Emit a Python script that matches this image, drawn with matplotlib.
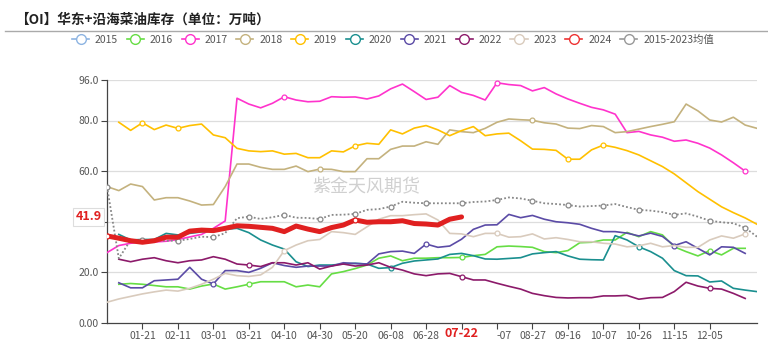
import numpy as np
import matplotlib
matplotlib.use("Agg")
import matplotlib.pyplot as plt
from matplotlib.lines import Line2D
from matplotlib.transforms import blended_transform_factory

plt.rcParams['font.family'] = ['Noto Sans CJK SC', 'DejaVu Sans']

N = 56
x = np.arange(N)

tick_pos = [3, 6, 9, 12, 15, 18, 21, 24, 27, 30, 33, 36, 39, 42, 45, 48, 51]
tick_lab = ['01-21', '02-11', '03-01', '03-21', '04-10', '04-30', '05-20', '06-08',
            '06-28', '', '-07', '08-27', '09-16', '10-07', '10-26', '11-15', '12-05']
cur_idx = 30
cur_date = '07-22'
cur_val = 41.9

y2015 = [None] * N
y2016 = [None, 15.3, 15.6, 15.3, 14.8, 14.3, 14.3, 13.4, 14.6, 15.4, 13.4, 14.3, 15.3, 16.3,
         16.3, 16.3, 14.3, 15.0, 14.3, 19.4, 20.3, 21.5, 22.9, 25.6, 26.5, 24.6, 25.6, 25.6,
         25.8, 25.8, 25.9, 26.6, 27.1, 30.1, 30.4, 30.2, 29.9, 28.2, 27.8, 28.6, 31.7, 31.9,
         32.8, 32.8, 35.8, 34.1, 36.1, 34.8, 30.1, 28.2, 26.5, 28.6, 26.9, 29.5, 29.5, None]
y2017 = [27.8, 30.6, 31.5, 32.0, 32.0, 32.3, 33.0, 34.0, 35.0, 37.4, 40.3, 88.8, 86.5, 85.0,
         86.8, 89.4, 88.1, 87.4, 87.6, 89.4, 89.2, 89.3, 88.5, 89.7, 92.5, 94.4, 91.4, 88.3,
         89.2, 93.8, 91.1, 89.9, 88.1, 94.9, 94.2, 93.8, 91.7, 93.0, 90.5, 88.5, 86.8, 85.2,
         84.2, 82.5, 75.2, 75.7, 74.3, 73.4, 71.8, 72.3, 71.0, 69.1, 66.4, 63.3, 60.0, None]
y2018 = [53.9, 52.3, 54.9, 53.9, 48.6, 49.5, 49.5, 48.2, 46.6, 46.8, 53.9, 62.8, 62.8, 61.5,
         60.7, 60.7, 62.0, 59.8, 60.8, 60.7, 59.8, 59.8, 64.9, 64.9, 68.6, 69.9, 69.9, 71.6,
         70.6, 76.3, 75.6, 75.2, 76.9, 79.3, 80.6, 80.3, 80.1, 79.1, 78.6, 77.0, 76.8, 78.0,
         77.6, 75.2, 75.6, 76.6, 77.6, 78.5, 79.5, 86.5, 83.8, 80.2, 79.4, 81.3, 78.2, 76.9]
y2019 = [None, 79.3, 76.1, 79.1, 76.4, 78.2, 76.9, 78.0, 78.6, 74.3, 73.2, 69.0, 68.0, 67.7,
         68.0, 66.7, 67.0, 65.3, 65.3, 68.0, 67.6, 70.0, 71.0, 70.6, 76.3, 74.7, 77.0, 78.0,
         76.3, 74.0, 76.0, 77.6, 74.0, 74.7, 75.0, 72.0, 68.7, 68.6, 68.2, 64.7, 64.7, 68.4,
         70.3, 69.4, 68.1, 66.4, 64.1, 61.8, 58.9, 55.4, 51.9, 48.9, 45.9, 43.6, 41.5, 39.0]
y2020 = [None, 35.0, 32.8, 33.0, 33.0, 35.4, 34.8, 35.4, 36.0, 36.5, 37.0, 37.4, 35.7, 32.8,
         30.8, 29.2, 24.2, 22.3, 22.9, 22.9, 23.3, 23.6, 23.3, 21.6, 21.9, 23.6, 24.5, 24.9,
         25.3, 27.1, 27.5, 26.6, 25.3, 25.2, 25.5, 25.8, 27.3, 27.8, 28.2, 26.5, 25.2, 25.0,
         24.9, 34.5, 32.8, 30.1, 28.2, 25.6, 20.7, 18.7, 18.6, 16.2, 16.6, 13.7, 13.0, 12.4]
y2021 = [None, 15.9, 13.9, 13.9, 16.7, 17.0, 17.3, 22.0, 17.3, 15.4, 20.7, 20.7, 20.0, 21.6,
         23.8, 22.7, 22.0, 22.5, 22.5, 22.5, 23.8, 23.5, 23.3, 27.3, 28.2, 28.4, 27.5, 31.2,
         29.9, 30.4, 33.1, 37.0, 38.7, 38.8, 42.9, 41.6, 42.5, 41.0, 40.0, 39.6, 39.0, 37.4,
         36.1, 36.1, 35.5, 34.4, 35.5, 34.2, 30.6, 32.1, 29.5, 26.9, 30.1, 29.9, 27.5, None]
y2022 = [None, 25.2, 24.2, 25.2, 25.8, 24.6, 23.8, 24.6, 24.9, 26.2, 25.2, 23.3, 22.9, 22.3,
         23.8, 23.8, 22.9, 23.8, 21.3, 22.5, 23.3, 22.5, 22.9, 23.8, 22.0, 20.9, 19.4, 18.7,
         19.4, 19.6, 18.3, 17.0, 17.0, 15.7, 14.5, 13.4, 11.7, 10.8, 10.1, 9.9, 10.0, 10.0,
         10.7, 10.7, 10.9, 9.4, 10.0, 10.1, 12.4, 16.1, 14.6, 13.7, 13.4, 11.7, 9.7, None]
y2023 = [8.2, 9.5, 10.5, 11.5, 12.3, 13.0, 12.6, 13.7, 15.3, 17.3, 19.6, 18.7, 18.4, 19.0,
         22.0, 28.6, 30.8, 32.5, 33.0, 36.1, 35.7, 35.0, 38.0, 41.0, 42.4, 42.4, 42.8, 43.1,
         40.7, 35.4, 35.2, 34.1, 35.4, 35.4, 33.9, 34.1, 35.2, 33.2, 33.7, 33.0, 32.1, 32.1,
         31.5, 31.2, 30.1, 30.5, 31.5, 30.1, 30.6, 29.9, 29.9, 32.8, 34.4, 33.5, 35.2, None]
y2024 = [34.4, 33.5, 32.5, 31.9, 32.5, 33.9, 33.9, 36.3, 36.7, 36.5, 37.4, 38.4, 38.2, 37.8,
         37.4, 36.1, 38.3, 37.1, 36.1, 37.7, 38.7, 40.7, 39.8, 40.0, 40.0, 40.4, 39.3, 39.1,
         38.7, 41.0, 41.9] + [None] * 25
ymean = [53.9, 25.5, 32.8, 32.8, 32.6, 32.5, 32.5, 33.2, 34.1, 33.9, 35.5, 41.4, 42.0, 41.1,
         41.8, 42.7, 41.6, 41.5, 41.1, 42.7, 42.8, 43.1, 44.7, 45.0, 46.0, 47.9, 47.5, 47.3,
         47.3, 47.3, 47.3, 47.8, 48.0, 48.6, 49.6, 49.2, 48.3, 47.3, 47.0, 46.6, 46.0, 46.2,
         46.4, 47.0, 45.8, 44.7, 44.4, 43.8, 42.7, 43.3, 42.0, 40.4, 39.8, 39.4, 37.6, 34.1]

series = [
    ('2015', y2015, '#8db4e2', []),
    ('2016', y2016, '#66dd44', [12, 30, 51]),
    ('2017', y2017, '#ff33cc', [15, 33, 54]),
    ('2018', y2018, '#c4b27e', [18, 36]),
    ('2019', y2019, '#ffc000', [3, 6, 21, 39, 42]),
    ('2020', y2020, '#1a8f8f', [24, 45]),
    ('2021', y2021, '#5b4ba6', [9, 27, 48]),
    ('2022', y2022, '#8c1a6a', [12, 30, 51]),
    ('2023', y2023, '#d9cbbd', [15, 33, 54]),
]

fig = plt.figure(figsize=(7.68, 3.4), dpi=100)
ax = fig.add_axes([107 / 768, 17 / 340, 650 / 768, 243 / 340])

handles = []
for name, vals, col, mk in series:
    v = np.array(vals, dtype=float)
    ax.plot(x, v, color=col, lw=1.2, marker='o', markevery=mk, ms=3.5,
            mfc='white', mec=col, mew=0.9, zorder=3)
    handles.append(Line2D([], [], color=col, lw=1.2, marker='o', ms=7,
                          mfc='white', mec=col, mew=1.0, label=name))

vm = np.array(ymean, dtype=float)
ax.plot(x, vm, color='#888888', lw=1.3, ls=(0, (1, 1.2)), marker='o',
        markevery=list(range(0, N, 3)), ms=3.5, mfc='white', mec='#888888', mew=0.9, zorder=4)

v24 = np.array(y2024, dtype=float)
ax.plot(x, v24, color='#e02020', lw=3.6, solid_capstyle='round', marker='o',
        markevery=[0, 21], ms=3.5, mfc='white', mec='#e02020', mew=0.9, zorder=5)

handles.append(Line2D([], [], color='#ee3333', lw=1.2, marker='o', ms=7,
                      mfc='white', mec='#ee3333', mew=1.0, label='2024'))
handles.append(Line2D([], [], color='#999999', lw=1.2, marker='o', ms=7,
                      mfc='white', mec='#999999', mew=1.0, label='2015-2023均值'))

ax.set_xlim(0, N - 1)
ax.set_ylim(0, 96)
ax.set_yticks([0, 20, 40, 60, 80, 96])
ax.set_yticklabels(['0.00', '20.0', '40.0', '60.0', '80.0', '96.0'])
ax.set_xticks(tick_pos)
ax.set_xticklabels(tick_lab)
for t in ax.get_xticklabels():
    if t.get_text() == '-07':
        t.set_ha('left')
ax.tick_params(axis='both', labelsize=7.5, labelcolor='#555555', color='#444444',
               length=4, width=0.8)
ax.tick_params(axis='x', pad=2)
ax.tick_params(axis='y', pad=2)
for y in [20, 40, 60, 80, 96]:
    ax.axhline(y, color='#dddddd', lw=0.9, zorder=1)
for s in ['top', 'right']:
    ax.spines[s].set_visible(False)
for s in ['left', 'bottom']:
    ax.spines[s].set_color('#444444')
    ax.spines[s].set_linewidth(0.9)

# axis pointer labels
tr = blended_transform_factory(ax.transAxes, ax.transData)
ax.text(-0.008, cur_val, f'{cur_val}', transform=tr, ha='right', va='center',
        color='#e02020', fontsize=9, fontweight='bold', zorder=10, clip_on=False,
        bbox=dict(boxstyle='square,pad=0.2', fc='white', ec='#dddddd', lw=0.8))
tr2 = blended_transform_factory(ax.transData, ax.transAxes)
ax.text(cur_idx, -0.042, cur_date, transform=tr2, ha='center', va='center',
        color='#e02020', fontsize=9, fontweight='bold', zorder=10, clip_on=False)

fig.legend(handles=handles, loc='center', bbox_to_anchor=(393 / 768, 1 - 40 / 340),
           ncol=11, frameon=False, fontsize=7.5, handlelength=1.65, handletextpad=0.55,
           columnspacing=0.83, labelcolor='#555555')

fig.text(15 / 768, 1 - 20 / 340, '【OI】华东+沿海菜油库存（单位：万吨）', fontsize=9.8,
         fontweight='bold', va='center', ha='left', color='#222222')
fig.add_artist(Line2D([5 / 768, 1], [1 - 31 / 340] * 2, color='#aaaaaa', lw=1))
fig.text(366 / 768, 1 - 187 / 340, '紫金天风期货', fontsize=13, color='#d0d0d0',
         ha='center', va='center', zorder=0)

fig.savefig('out.png', dpi=100)
